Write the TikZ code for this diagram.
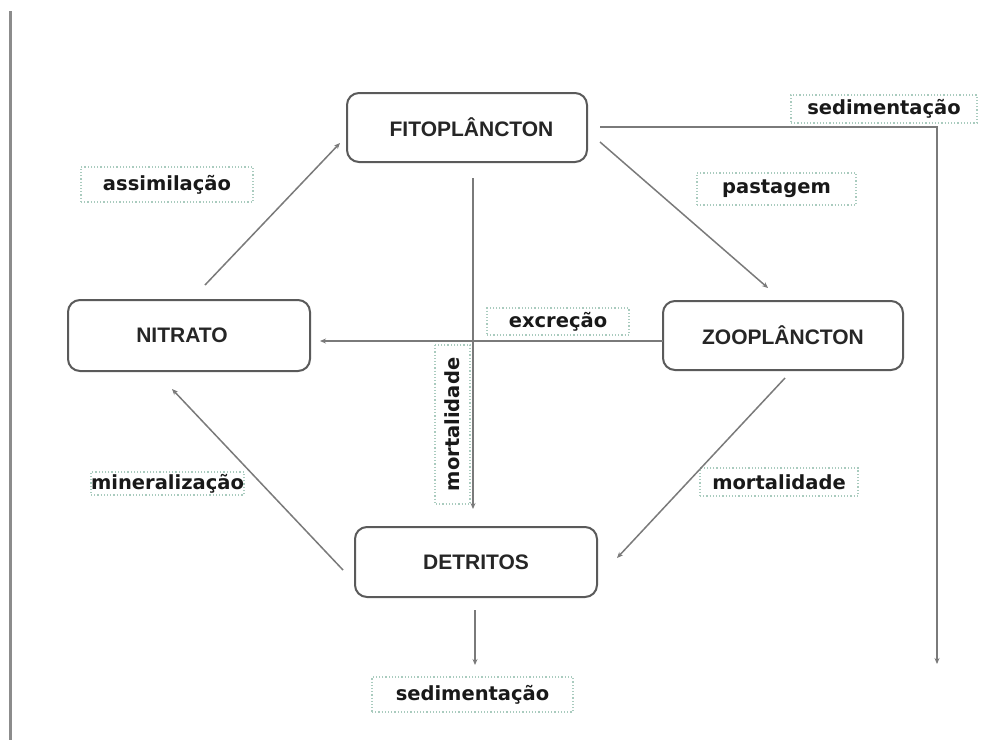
\documentclass[tikz,border=0pt]{standalone}
\usepackage{fontspec}
\setmainfont{Liberation Sans}
\newfontfamily\labfont{DejaVu Sans}
\usetikzlibrary{arrows.meta}
\definecolor{boxline}{HTML}{5A5A5A}
\definecolor{conn}{HTML}{7A7A7A}
\definecolor{dotline}{HTML}{A9CBBE}
\tikzset{
  compbox/.style={draw=boxline, line width=2pt, rounded corners=12pt, fill=white,
    minimum width=240pt, minimum height=69pt, inner sep=0pt,
    font=\fontsize{21}{23}\selectfont\bfseries, text=black!85},
  lab/.style={draw=dotline, dotted, line width=1.2pt, inner sep=0pt,
    font=\labfont\fontsize{19.5}{22}\selectfont\bfseries, text=black!90},
  conn/.style={draw=conn, line width=1.5pt, -{Stealth[length=6pt,width=5pt]}},
}
\begin{document}
\begin{tikzpicture}[x=1pt,y=-1pt]
\path[use as bounding box] (0,0) rectangle (1001,740);
% left margin line
\draw[draw=black!45, line width=3pt] (10,11) -- (10,740);

% component boxes
\node[compbox] (fito) at (467,127.5) {\hspace*{9pt}FITOPLÂNCTON};
\node[compbox] (zoo)  at (783,335.5) {ZOOPLÂNCTON};
\node[compbox, minimum width=242pt, minimum height=71pt] (nit) at (189,335.5) {NITRATO\hspace*{14pt}};
\node[compbox, minimum width=242pt, minimum height=70pt] (det) at (476,562) {DETRITOS};

% labels
\node[lab, minimum width=172pt, minimum height=35pt] (lassim) at (167,184.5) {assimilação};
\node[lab, minimum width=186pt, minimum height=28pt] (lsedtop) at (884,109) {sedimentação};
\node[lab, minimum width=159pt, minimum height=32pt] (lpast) at (776.5,189) {pastagem};
\node[lab, minimum width=142pt, minimum height=27pt] (lexc) at (558,321.5) {excreção};
\node[lab, minimum width=159pt, minimum height=35pt, rotate=90] (lmortv) at (452.5,424.5) {mortalidade};
\node[lab, minimum width=158pt, minimum height=28pt] (lmortr) at (779,482) {mortalidade};
\node[lab, minimum width=149pt, minimum height=23pt] (lmin) at (167.5,483.5) {mineralização};
\node[lab, minimum width=201pt, minimum height=35pt] (lsedbot) at (472.5,694.5) {sedimentação};

% connector end points
\coordinate (nit-a) at (205,285);
\coordinate (fito-a) at (340,143);
\coordinate (fito-b) at (600,142);
\coordinate (zoo-b) at (768,288);
\coordinate (fito-c) at (600,127);
\coordinate (sedtop-end) at (937,664);
\coordinate (fito-d) at (473,178);
\coordinate (det-d) at (473,509);
\coordinate (zoo-e) at (663,341);
\coordinate (nit-e) at (320,341);
\coordinate (zoo-f) at (785,378);
\coordinate (det-f) at (617,558);
\coordinate (det-g) at (343,570);
\coordinate (nit-g) at (172,389);
\coordinate (det-h) at (475,610);
\coordinate (sedbot-end) at (475,665);

% connectors
\draw[conn] (nit-a) -- (fito-a);
\draw[conn] (fito-b) -- (zoo-b);
\draw[conn, line width=2.2pt] (fito-c) -| (sedtop-end);
\draw[conn] (fito-d) -- (det-d);
\draw[conn] (zoo-e) -- (nit-e);
\draw[conn] (zoo-f) -- (det-f);
\draw[conn] (det-g) -- (nit-g);
\draw[conn] (det-h) -- (sedbot-end);
\end{tikzpicture}
\end{document}
